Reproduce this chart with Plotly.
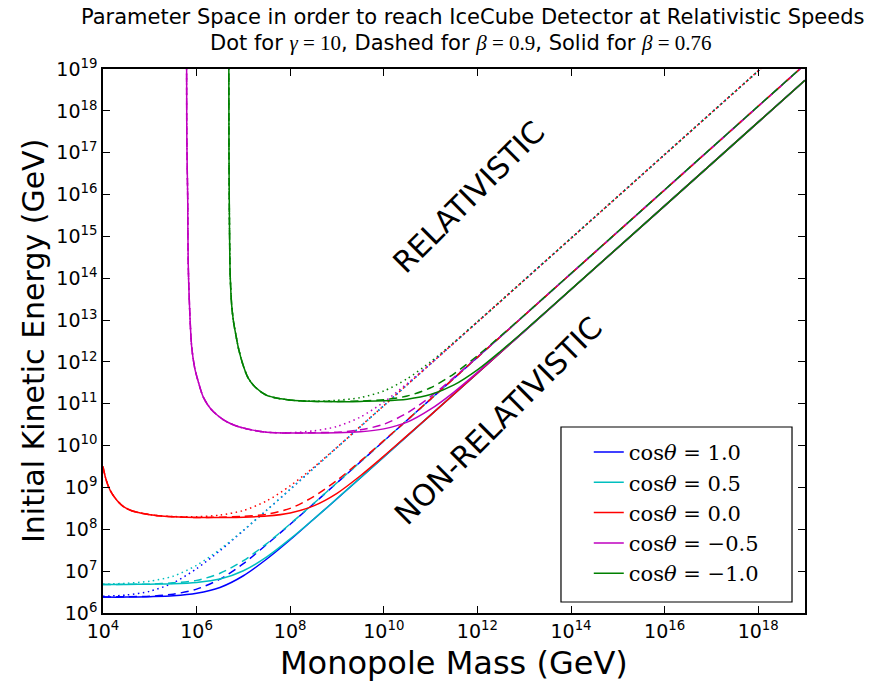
import plotly.graph_objects as go

# ---------------- data (log10 values) ----------------
# cos(theta) = 1.0 (blue) and 0.5 (cyan): common mass grid
LOGM_BC = [4, 4.5, 5, 5.5, 6, 6.5, 7, 7.5, 8, 8.5, 9, 10, 12, 14, 16, 18, 19]
LOGE_BLUE_SOLID = [6.38, 6.38, 6.39, 6.41, 6.47, 6.61, 6.89, 7.29, 7.75, 8.24, 8.73, 9.73, 11.73, 13.73, 15.73, 17.73, 18.73]
LOGE_BLUE_DASH = [6.38, 6.39, 6.40, 6.45, 6.57, 6.81, 7.18, 7.64, 8.12, 8.61, 9.11, 10.11, 12.11, 14.11, 16.11, 18.11, 19.11]
LOGE_BLUE_DOT = [6.40, 6.43, 6.52, 6.72, 7.06, 7.49, 7.97, 8.46, 8.955, 9.455, 9.954, 10.954, 12.954, 14.954, 16.954, 18.954, 19.954]
LOGE_CYAN_SOLID = [6.68, 6.68, 6.69, 6.70, 6.73, 6.81, 7.01, 7.34, 7.77, 8.24, 8.735, 9.732, 11.73, 13.73, 15.73, 17.73, 18.73]
LOGE_CYAN_DASH = [6.68, 6.685, 6.69, 6.72, 6.78, 6.95, 7.25, 7.66, 8.13, 8.617, 9.114, 10.112, 12.11, 14.11, 16.11, 18.11, 19.11]
LOGE_CYAN_DOT = [6.69, 6.71, 6.76, 6.88, 7.14, 7.52, 7.98, 8.46, 8.957, 9.455, 9.954, 10.954, 12.954, 14.954, 16.954, 18.954, 19.954]

# cos(theta) = 0.0 (red)
LOGM_RED = [4.0, 4.05, 4.1, 4.15, 4.2, 4.3, 4.43, 4.6, 4.8, 5.0, 5.25, 5.5, 6.0, 6.5, 7.0, 7.5,
            8.0, 8.5, 9.0, 9.5, 10.0, 10.5, 11.0, 12, 14, 16, 18, 19]
LOGE_RED_SOLID = [9.50, 9.25, 9.07, 8.94, 8.84, 8.69, 8.55, 8.45, 8.39, 8.35, 8.32, 8.30, 8.28, 8.283, 8.29, 8.316,
                  8.39, 8.56, 8.86, 9.28, 9.75, 10.24, 10.73, 11.73, 13.73, 15.73, 17.73, 18.73]
LOGE_RED_DASH = [9.50, 9.25, 9.07, 8.94, 8.84, 8.69, 8.55, 8.45, 8.39, 8.35, 8.32, 8.30, 8.28, 8.289, 8.31, 8.36,
                 8.50, 8.78, 9.17, 9.63, 10.12, 10.61, 11.11, 12.11, 14.11, 16.11, 18.11, 19.11]
LOGE_RED_DOT = [9.50, 9.25, 9.07, 8.94, 8.84, 8.69, 8.55, 8.45, 8.39, 8.35, 8.32, 8.305, 8.30, 8.34, 8.45, 8.68,
                9.04, 9.48, 9.96, 10.46, 10.955, 11.455, 11.954, 12.954, 14.954, 16.954, 18.954, 19.954]

# cos(theta) = -0.5 (magenta): steep wall at low mass, shared by all three styles
LOGM_MAG_LOW = [5.786, 5.79, 5.80, 5.81, 5.82, 5.85, 5.895, 5.96, 6.03, 6.143, 6.3, 6.45, 6.643, 6.9, 7.2, 7.5, 8.0]
LOGE_MAG_LOW = [19.5, 17.5, 16.6, 15.9, 14.4, 13.3, 12.36, 11.85, 11.55, 11.16, 10.88, 10.72, 10.57, 10.45, 10.37, 10.32, 10.30]
LOGM_MAG_HIGH = [8.5, 9.0, 9.5, 10.0, 10.5, 11.0, 11.5, 12.0, 12.5, 13.0, 14, 16, 18, 19]
LOGE_MAG_SOLID = [10.30, 10.305, 10.33, 10.40, 10.56, 10.87, 11.28, 11.75, 12.24, 12.73, 13.73, 15.73, 17.73, 18.73]
LOGE_MAG_DASH = [10.31, 10.32, 10.377, 10.51, 10.78, 11.17, 11.63, 12.12, 12.61, 13.11, 14.11, 16.11, 18.11, 19.11]
LOGE_MAG_DOT = [10.353, 10.458, 10.683, 11.04, 11.483, 11.964, 12.457, 12.955, 13.454, 13.954, 14.954, 16.954, 18.954, 19.954]

# cos(theta) = -1.0 (green)
LOGM_GRN_LOW = [6.688, 6.692, 6.70, 6.71, 6.72, 6.75, 6.79, 6.83, 6.9, 7.0, 7.1, 7.25, 7.5, 7.8, 8.2, 8.6, 9.0]
LOGE_GRN_LOW = [19.5, 17.0, 15.6, 14.5, 14.0, 13.35, 12.95, 12.7, 12.3, 11.9, 11.62, 11.4, 11.2, 11.12, 11.07, 11.055, 11.05]
LOGM_GRN_HIGH = [9.5, 10.0, 10.5, 11.0, 11.5, 12.0, 12.5, 13.0, 13.5, 14, 16, 18, 19]
LOGE_GRN_SOLID = [11.057, 11.07, 11.11, 11.22, 11.45, 11.81, 12.26, 12.74, 13.234, 13.733, 15.73, 17.73, 18.73]
LOGE_GRN_DASH = [11.066, 11.097, 11.185, 11.383, 11.717, 12.148, 12.624, 13.116, 13.614, 14.114, 16.112, 18.112, 19.112]
LOGE_GRN_DOT = [11.148, 11.306, 11.599, 12.005, 12.471, 12.96, 13.456, 13.955, 14.455, 14.954, 16.954, 18.954, 19.954]

LEGEND_LABELS = ["1.0", "0.5", "0.0", "\u22120.5", "\u22121.0"]
COLORS = ["#0000ff", "#00bfbf", "#ff0000", "#bf00bf", "#008000"]

X_TICK_EXP = [4, 6, 8, 10, 12, 14, 16, 18]
Y_TICK_EXP = list(range(6, 20))


def pw(vals):
    return [10 ** v for v in vals]


curves = [
    (0, LOGM_BC, LOGE_BLUE_DOT, LOGM_BC, LOGE_BLUE_DASH, LOGM_BC, LOGE_BLUE_SOLID),
    (1, LOGM_BC, LOGE_CYAN_DOT, LOGM_BC, LOGE_CYAN_DASH, LOGM_BC, LOGE_CYAN_SOLID),
    (2, LOGM_RED, LOGE_RED_DOT, LOGM_RED, LOGE_RED_DASH, LOGM_RED, LOGE_RED_SOLID),
    (3, LOGM_MAG_LOW[:-1] + [8.0] + LOGM_MAG_HIGH, LOGE_MAG_LOW[:-1] + [10.31] + LOGE_MAG_DOT,
        LOGM_MAG_LOW + LOGM_MAG_HIGH, LOGE_MAG_LOW + LOGE_MAG_DASH,
        LOGM_MAG_LOW + LOGM_MAG_HIGH, LOGE_MAG_LOW + LOGE_MAG_SOLID),
    (4, LOGM_GRN_LOW[:-2] + [8.6, 9.0] + LOGM_GRN_HIGH, LOGE_GRN_LOW[:-2] + [11.064, 11.084] + LOGE_GRN_DOT,
        LOGM_GRN_LOW + LOGM_GRN_HIGH, LOGE_GRN_LOW[:-1] + [11.055] + LOGE_GRN_DASH,
        LOGM_GRN_LOW + LOGM_GRN_HIGH, LOGE_GRN_LOW + LOGE_GRN_SOLID),
]

fig = go.Figure()
LW = 1.5
for ci, mx_dot, ey_dot, mx_dash, ey_dash, mx_sol, ey_sol in curves:
    col = COLORS[ci]
    fig.add_trace(go.Scatter(x=pw(mx_dot), y=pw(ey_dot), mode="lines", showlegend=False,
                             line=dict(color=col, width=LW, dash="1.5px,3.5px", shape="spline", smoothing=0.8)))
    fig.add_trace(go.Scatter(x=pw(mx_dash), y=pw(ey_dash), mode="lines", showlegend=False,
                             line=dict(color=col, width=LW, dash="8px,5px", shape="spline", smoothing=0.8)))
    fig.add_trace(go.Scatter(x=pw(mx_sol), y=pw(ey_sol), mode="lines", showlegend=True,
                             name="cos<i>\u03b8</i> = " + LEGEND_LABELS[ci],
                             line=dict(color=col, width=LW, shape="spline", smoothing=0.8)))

axis_common = dict(type="log", showline=True, linecolor="black", linewidth=1.5, mirror="allticks",
                   ticks="inside", ticklen=7, tickwidth=1, tickcolor="black", showgrid=False, zeroline=False,
                   tickfont=dict(family="DejaVu Sans", size=19, color="black"))

fig.update_xaxes(range=[4, 19], tickvals=[10 ** e for e in X_TICK_EXP],
                 ticktext=["10<sup>%d</sup>" % e for e in X_TICK_EXP], **axis_common)
fig.update_yaxes(range=[6, 19], tickvals=[10 ** e for e in Y_TICK_EXP],
                 ticktext=["10<sup>%d</sup>" % e for e in Y_TICK_EXP], **axis_common)

serif = "font-family:'Liberation Serif'"
eq = " = "
annotations = [
    dict(text="Parameter Space in order to reach IceCube Detector at Relativistic Speeds",
         xref="paper", yref="paper", x=0.526, y=1.0956, showarrow=False, xanchor="center", yanchor="middle",
         font=dict(family="DejaVu Sans", size=21, color="black")),
    dict(text=("Dot for <span style=\"%s\"><i>\u03b3</i>%s10</span>, Dashed for "
               "<span style=\"%s\"><i>\u03b2</i>%s0.9</span>, Solid for "
               "<span style=\"%s\"><i>\u03b2</i>%s0.76</span>") % (serif, eq, serif, eq, serif, eq),
         xref="paper", yref="paper", x=0.51, y=1.0478, showarrow=False, xanchor="center", yanchor="middle",
         font=dict(family="DejaVu Sans", size=21, color="black")),
    dict(text="Monopole Mass (GeV)", xref="paper", yref="paper", x=0.5, y=-0.0919, showarrow=False,
         xanchor="center", yanchor="middle", font=dict(family="DejaVu Sans", size=32, color="black")),
    dict(text="Initial Kinetic Energy (GeV)", xref="paper", yref="paper", x=-0.0997, y=0.5, showarrow=False,
         xanchor="center", yanchor="middle", textangle=-90,
         font=dict(family="DejaVu Sans", size=30, color="black")),
    dict(text="RELATIVISTIC", xref="x", yref="y", x=11.8, y=15.94, showarrow=False, textangle=-45,
         xanchor="center", yanchor="middle", font=dict(family="DejaVu Sans", size=30, color="black")),
    dict(text="NON-RELATIVISTIC", xref="x", yref="y", x=12.45, y=10.6, showarrow=False, textangle=-45,
         xanchor="center", yanchor="middle", font=dict(family="DejaVu Sans", size=30, color="black")),
]

# legend frame (pixel box 561-792 x 427-602 of the reference)
shapes = [dict(type="rect", xref="paper", yref="paper", x0=0.6524, x1=0.9815, y0=0.0202, y1=0.3419,
               line=dict(color="black", width=1.2), fillcolor="rgba(0,0,0,0)", layer="above")]

fig.update_layout(
    width=875, height=687,
    margin=dict(l=103, r=70, t=69, b=74),
    paper_bgcolor="white", plot_bgcolor="white",
    annotations=annotations,
    shapes=shapes,
    showlegend=True,
    legend=dict(x=0.692, y=0.333, xanchor="left", yanchor="top",
                borderwidth=0, bgcolor="rgba(0,0,0,0)",
                font=dict(family="DejaVu Serif", size=21, color="black"),
                tracegroupgap=0),
)

fig.write_html("out.html")
